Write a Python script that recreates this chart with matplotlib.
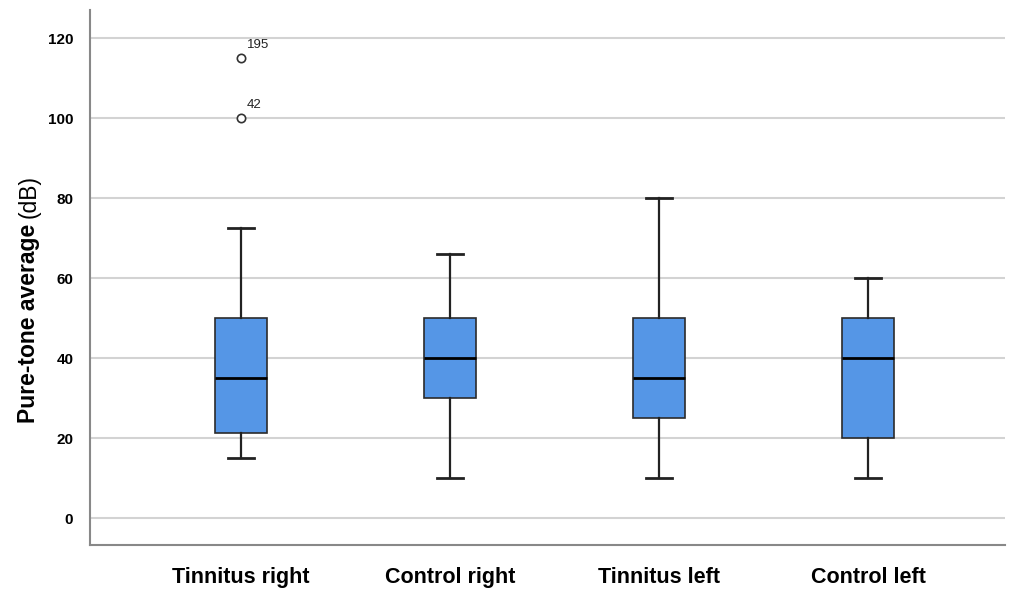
import matplotlib
matplotlib.use("Agg")
import matplotlib.pyplot as plt
from matplotlib import font_manager

categories = ["Tinnitus right", "Control right", "Tinnitus left", "Control left"]
whislo = [15, 10, 10, 10]
q1 = [21.3, 30, 25, 20]
med = [35, 40, 35, 40]
q3 = [50, 50, 50, 50]
whishi = [72.5, 66, 80, 60]
outlier_vals = [[100, 115], [], [], []]
outlier_ids = [["42", "195"], [], [], []]
yticks = [0, 20, 40, 60, 80, 100, 120]

names = {f.name for f in font_manager.fontManager.ttflist}
narrow = "Liberation Sans Narrow" if "Liberation Sans Narrow" in names else "Liberation Sans"
sans = "Liberation Sans" if "Liberation Sans" in names else "DejaVu Sans"

fig = plt.figure(figsize=(10.13, 5.9), dpi=100)
ax = fig.add_axes([90/1013, 1-545/590, 915/1013, 535/590])

stats = []
for i, c in enumerate(categories):
    stats.append(dict(label=c, whislo=whislo[i], q1=q1[i], med=med[i], q3=q3[i],
                      whishi=whishi[i], fliers=outlier_vals[i]))

positions = [0, 1, 2, 3]
ax.bxp(stats, positions=positions, widths=0.25, patch_artist=True, capwidths=0.125,
       boxprops=dict(facecolor="#5596e6", edgecolor="#2b2b2b", linewidth=1.2),
       medianprops=dict(color="black", linewidth=2),
       whiskerprops=dict(color="#222222", linewidth=1.6),
       capprops=dict(color="#222222", linewidth=2.0),
       flierprops=dict(marker="o", markerfacecolor="white", markeredgecolor="#333333",
                       markersize=6, markeredgewidth=1.2),
       zorder=3)

for i, (vals, ids) in enumerate(zip(outlier_vals, outlier_ids)):
    for v, t in zip(vals, ids):
        ax.annotate(t, (positions[i], v), xytext=(4, 5), textcoords="offset points",
                    fontsize=9.5, color="#222222", ha="left", va="bottom", family=sans)

ax.set_xlim(-0.723, 3.655)
ax.set_ylim(-6.75, 127)
ax.set_yticks(yticks)
ax.set_yticklabels([str(t) for t in yticks],
                   fontdict=dict(family=narrow, weight="bold", size=11))
ax.set_xticks(positions)
ax.set_xticklabels(categories, fontdict=dict(family=sans, weight="bold", size=15.5))
ax.tick_params(axis="both", length=0)
ax.tick_params(axis="x", pad=16)
ax.tick_params(axis="y", pad=12)
ax.yaxis.grid(True, color="#d3d3d3", linewidth=1.5, zorder=0)
ax.set_axisbelow(True)
for s in ["top", "right"]:
    ax.spines[s].set_visible(False)
for s in ["left", "bottom"]:
    ax.spines[s].set_color("#888888")
    ax.spines[s].set_linewidth(1.5)

t1 = fig.text(29/1013, 1-423/590, "Pure-tone average", rotation=90, ha="left", va="center",
              rotation_mode="anchor", family=sans, weight="bold", size=16.5)
fig.canvas.draw()
bb = t1.get_window_extent(fig.canvas.get_renderer())
top_px = bb.y1
fig.text(29/1013, (top_px + 6)/590, "(dB)", rotation=90, ha="left", va="center",
         rotation_mode="anchor", family=sans, weight="normal", size=16.5)

fig.savefig("out.png", dpi=100, facecolor="white")
